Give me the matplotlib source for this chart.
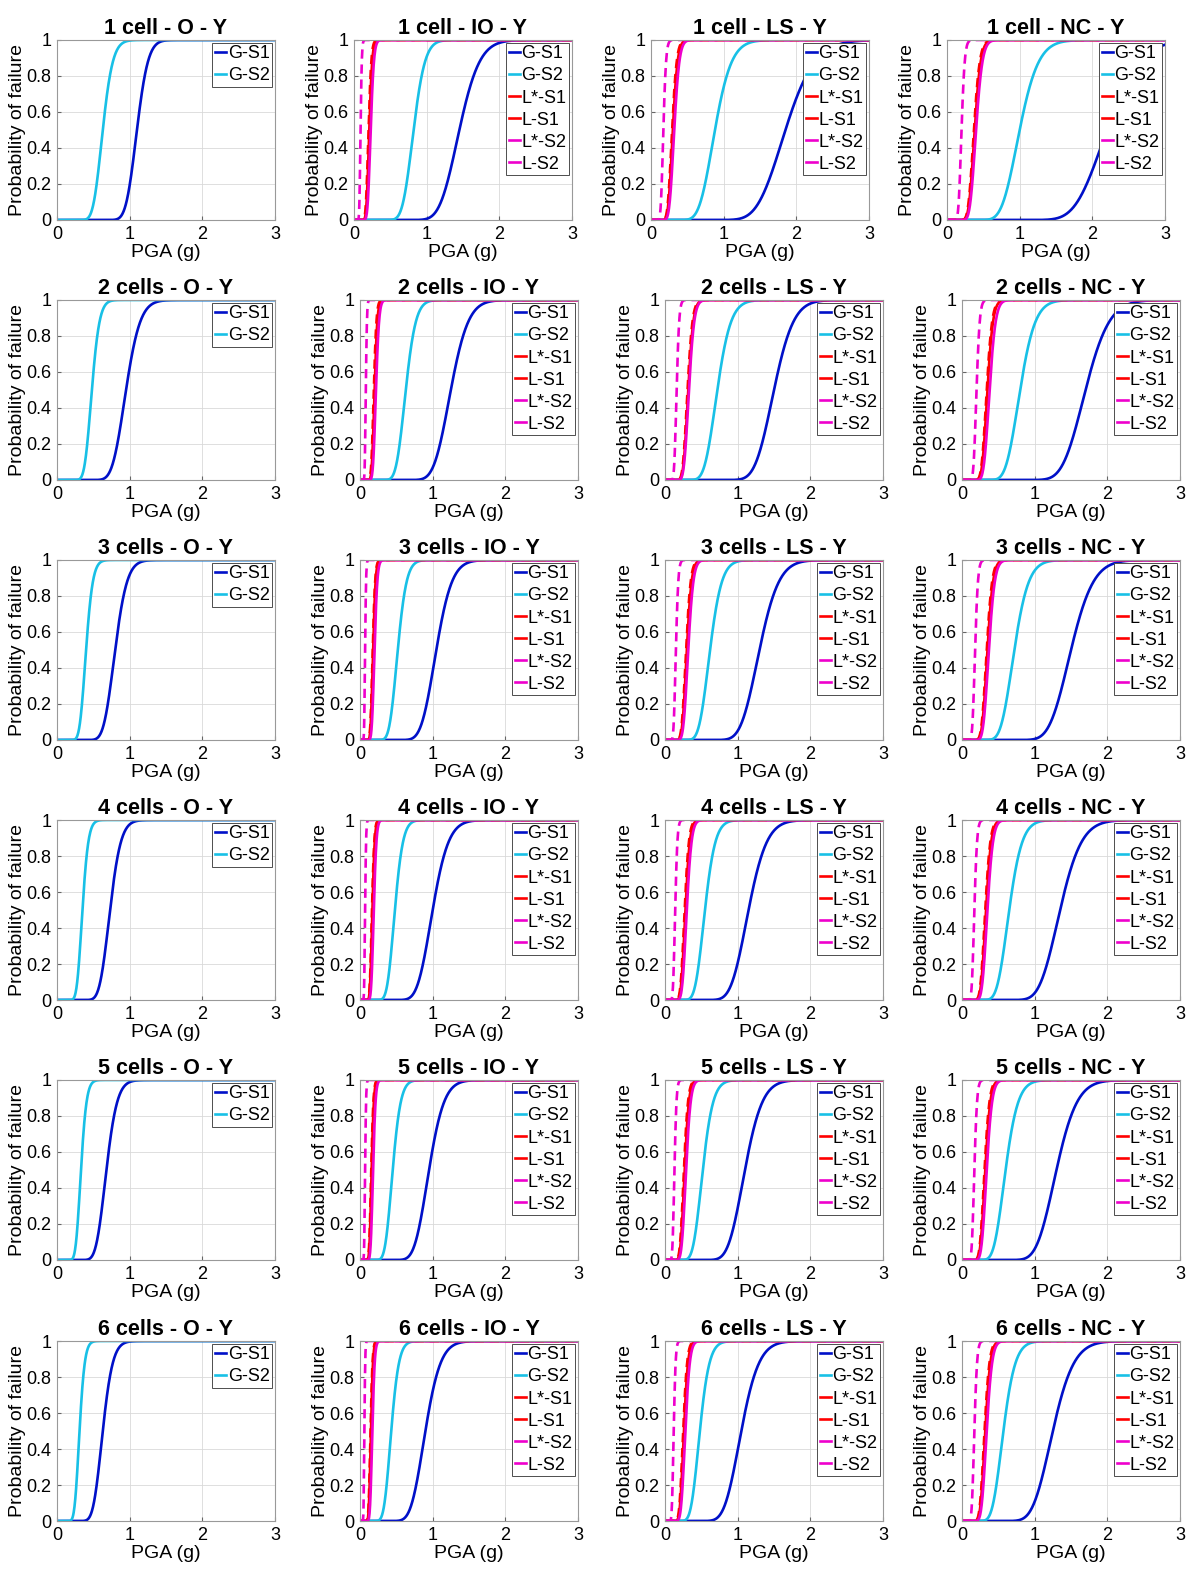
import math
import numpy as np
import matplotlib
matplotlib.use("Agg")
import matplotlib.pyplot as plt
from matplotlib.ticker import FormatStrFormatter

plt.rcParams['font.family'] = ['Liberation Sans', 'DejaVu Sans']

row_names = ["1 cell", "2 cells", "3 cells", "4 cells", "5 cells", "6 cells"]
states = ["O", "IO", "LS", "NC"]
labels = ["G-S1", "G-S2", "L*-S1", "L-S1", "L*-S2", "L-S2"]

# lognormal fragility parameters: median PGA (g) and dispersion
# rows = number of cells, columns = O, IO, LS, NC (None = curve not shown)
g_s1_med = [[1.10, 1.45, 1.85, 2.20],
            [0.95, 1.25, 1.50, 1.70],
            [0.80, 1.05, 1.30, 1.50],
            [0.73, 1.00, 1.15, 1.35],
            [0.68, 0.95, 1.10, 1.30],
            [0.63, 0.90, 1.05, 1.25]]
g_s1_beta = [[0.11, 0.15, 0.17, 0.16],
             [0.16, 0.15, 0.14, 0.15],
             [0.16, 0.16, 0.16, 0.16],
             [0.16, 0.17, 0.17, 0.17],
             [0.17, 0.17, 0.17, 0.17],
             [0.17, 0.18, 0.18, 0.18]]
g_s2_med = [[0.63, 0.82, 0.88, 1.00],
            [0.48, 0.63, 0.72, 0.80],
            [0.40, 0.52, 0.62, 0.72],
            [0.35, 0.48, 0.55, 0.65],
            [0.33, 0.45, 0.52, 0.60],
            [0.31, 0.43, 0.48, 0.57]]
g_s2_beta = [[0.17, 0.15, 0.20, 0.20],
             [0.17, 0.17, 0.20, 0.20],
             [0.18, 0.18, 0.20, 0.21],
             [0.18, 0.18, 0.20, 0.21],
             [0.18, 0.19, 0.21, 0.22],
             [0.18, 0.19, 0.21, 0.22]]
ls1_star_med = [[None, 0.21, 0.30, 0.38],
                [None, 0.20, 0.32, 0.35],
                [None, 0.18, 0.30, 0.35],
                [None, 0.17, 0.28, 0.33],
                [None, 0.16, 0.27, 0.32],
                [None, 0.15, 0.26, 0.32]]
ls1_med = [[None, 0.20, 0.29, 0.37],
           [None, 0.19, 0.31, 0.34],
           [None, 0.175, 0.29, 0.34],
           [None, 0.165, 0.27, 0.32],
           [None, 0.155, 0.26, 0.31],
           [None, 0.145, 0.25, 0.31]]
ls2_star_med = [[None, 0.23, 0.32, 0.40],
                [None, 0.22, 0.33, 0.38],
                [None, 0.20, 0.32, 0.37],
                [None, 0.19, 0.30, 0.35],
                [None, 0.18, 0.29, 0.34],
                [None, 0.17, 0.28, 0.34]]
ls2_med = [[None, 0.09, 0.17, 0.20],
           [None, 0.08, 0.16, 0.20],
           [None, 0.07, 0.15, 0.18],
           [None, 0.07, 0.14, 0.17],
           [None, 0.07, 0.13, 0.17],
           [None, 0.06, 0.12, 0.17]]
l_beta = [0.15, 0.17, 0.17]  # IO, LS, NC

colors = ["#0010C8", "#18C0E6", "#FF0000", "#FF0000", "#EE00CC", "#EE00CC"]
styles = ["-", "-", "-", "--", "-", "--"]

x = np.linspace(1e-4, 3, 800)
erf = np.vectorize(math.erf)


def frag(med, beta):
    return 0.5 * (1 + erf(np.log(x / med) / (beta * math.sqrt(2))))


fig = plt.figure(figsize=(12.03, 15.81), dpi=100)
W, H = 1203, 1581
row_tops = [40, 300, 560, 820, 1080, 1341]
col_lefts = [[57, 354, 651, 947]] + [[57, 360, 665, 962]] * 5
aw, ah = 218, 180

for r in range(6):
    for c in range(4):
        left = col_lefts[r][c]
        ax = fig.add_axes([left / W, 1 - (row_tops[r] + ah) / H, aw / W, ah / H])
        meds = [g_s1_med[r][c], g_s2_med[r][c], ls1_star_med[r][c],
                ls1_med[r][c], ls2_star_med[r][c], ls2_med[r][c]]
        betas = [g_s1_beta[r][c], g_s2_beta[r][c]] + [l_beta[c - 1] if c > 0 else None] * 4
        for k in range(6):
            if meds[k] is None:
                continue
            ax.plot(x, frag(meds[k], betas[k]), color=colors[k], ls=styles[k],
                    lw=1.9, label=labels[k], dashes=(3.5, 2.2) if styles[k] == "--" else (None, None))
        ax.set_xlim(0, 3)
        ax.set_ylim(0, 1)
        ax.set_xticks([0, 1, 2, 3])
        ax.set_yticks(np.arange(0, 1.01, 0.2))
        ax.yaxis.set_major_formatter(FormatStrFormatter('%g'))
        ax.grid(True, color='0.85', lw=0.6)
        ax.set_axisbelow(True)
        for s in ax.spines.values():
            s.set_color('0.6')
            s.set_linewidth(0.8)
        ax.tick_params(direction='in', length=3, labelsize=13, color='0.4', pad=4)
        ax.set_title(f"{row_names[r]} - {states[c]} - Y", fontsize=15.5, fontweight='bold', pad=4)
        ax.set_xlabel("PGA (g)", fontsize=14, labelpad=1)
        ax.set_ylabel("Probability of failure", fontsize=14, labelpad=0)
        leg = ax.legend(loc='upper right', fontsize=13, frameon=True, fancybox=False,
                        framealpha=1, edgecolor='0.3', borderaxespad=0.15, borderpad=0.15,
                        handlelength=0.6, handletextpad=0.1, labelspacing=0.28)
        leg.get_frame().set_linewidth(0.7)
        for h in leg.get_lines():
            h.set_linestyle('-')

fig.savefig("out.png", dpi=100)
